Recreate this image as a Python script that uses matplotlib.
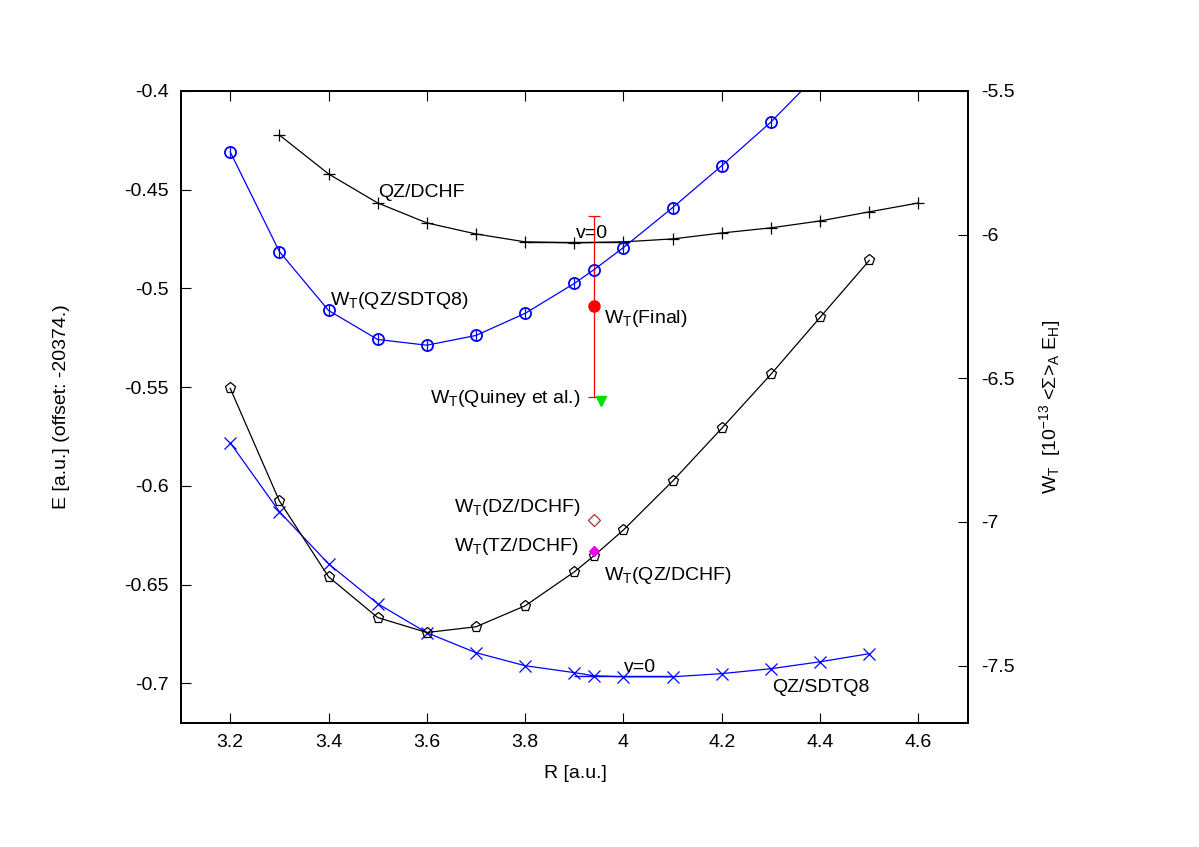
import matplotlib
matplotlib.use("Agg")
import matplotlib.pyplot as plt

plt.rcParams['font.family'] = ['Liberation Sans', 'DejaVu Sans']
plt.rcParams['mathtext.default'] = 'regular'
plt.rcParams['font.size'] = 14

# Energies (left axis), QZ/DCHF and QZ/SDTQ8
r_dchf = [3.3, 3.4, 3.5, 3.6, 3.7, 3.8, 3.9, 4.0, 4.1, 4.2, 4.3, 4.4, 4.5, 4.6]
e_dchf = [-0.4223, -0.4420, -0.4567, -0.4668, -0.4724, -0.4764, -0.4769,
          -0.4764, -0.4749, -0.4719, -0.4693, -0.4658, -0.4612, -0.4567]
r_sdtq = [3.2, 3.3, 3.4, 3.5, 3.6, 3.7, 3.8, 3.9, 3.94, 4.0, 4.1, 4.2, 4.3, 4.4, 4.5]
e_sdtq = [-0.5781, -0.6130, -0.6394, -0.6596, -0.6743, -0.6844, -0.6910, -0.6945,
          -0.6961, -0.6966, -0.6966, -0.6950, -0.6925, -0.6890, -0.6849]

# v=0 levels
v0_dchf = (-0.4766, 3.805, 4.01)
v0_sdtq = (-0.6963, 3.90, 4.10)

# W_T (right axis)
r_wt = [3.2, 3.3, 3.4, 3.5, 3.6, 3.7, 3.8, 3.9, 3.94, 4.0, 4.1, 4.2, 4.3, 4.4]
wt_sdtq = [-5.712, -6.059, -6.264, -6.365, -6.385, -6.351, -6.274, -6.170,
           -6.122, -6.045, -5.906, -5.760, -5.608, -5.434]
wt_sdtq_err = [0.02] * len(r_wt)
r_wt2 = [3.2, 3.3, 3.4, 3.5, 3.6, 3.7, 3.8, 3.9, 3.94, 4.0, 4.1, 4.2, 4.3, 4.4, 4.5]
wt_qzdchf = [-6.535, -6.927, -7.191, -7.333, -7.385, -7.365, -7.292, -7.174,
             -7.118, -7.028, -6.858, -6.674, -6.486, -6.288, -6.090]

r_eq = 3.94
wt_final, wt_final_err = -6.25, 0.315
r_quiney, wt_quiney = 3.955, -6.58
wt_dz = -6.995
wt_tz = -7.101

fig = plt.figure(figsize=(11.99, 8.47), dpi=100)
ax = fig.add_axes([0.151, 0.1464, 0.656, 0.7462])
ax2 = ax.twinx()

ax.plot(r_dchf, e_dchf, color='black', lw=0.9, marker='+', ms=9, mew=0.9)
ax.plot(r_sdtq, e_sdtq, color='blue', lw=0.9, marker='x', ms=8, mew=0.9)
ax.hlines(v0_dchf[0], v0_dchf[1], v0_dchf[2], color='black', lw=1.0)
ax.hlines(v0_sdtq[0], v0_sdtq[1], v0_sdtq[2], color='blue', lw=1.0)

ax2.errorbar(r_wt, wt_sdtq, yerr=wt_sdtq_err, color='blue', lw=0.9, marker='o',
             ms=8, mfc='none', mew=1.3, elinewidth=0.9, capsize=0)
ax2.plot(r_wt2, wt_qzdchf, color='black', lw=0.9, marker='p', ms=8, mfc='none', mew=0.9)
ax2.errorbar([r_eq], [wt_final], yerr=[wt_final_err], color='red', marker='o', ms=8,
             lw=0.9, elinewidth=0.9, capsize=4, capthick=0.9)
ax2.plot([r_quiney], [wt_quiney], marker='v', color='#00dd00', ms=7, ls='none')
ax2.plot([r_eq], [wt_dz], marker='D', color='#b03030', mfc='none', ms=6, mew=0.9, ls='none')
ax2.plot([r_eq], [wt_tz], marker='D', color='#ee00ee', ms=5.5, ls='none')

ax.set_xlim(3.1, 4.7)
ax.set_ylim(-0.72, -0.4)
ax2.set_ylim(-7.7, -5.5)
ax.set_xticks([3.2, 3.4, 3.6, 3.8, 4.0, 4.2, 4.4, 4.6])
ax.set_xticklabels(['3.2', '3.4', '3.6', '3.8', '4', '4.2', '4.4', '4.6'])
ax.set_yticks([-0.7, -0.65, -0.6, -0.55, -0.5, -0.45, -0.4])
ax.set_yticklabels(['-0.7', '-0.65', '-0.6', '-0.55', '-0.5', '-0.45', '-0.4'])
ax2.set_yticks([-7.5, -7, -6.5, -6, -5.5])
ax2.set_yticklabels(['-7.5', '-7', '-6.5', '-6', '-5.5'])

ax.tick_params(axis='x', direction='in', top=True, length=7, width=0.8, pad=8)
ax.tick_params(axis='y', direction='in', length=7, width=0.8, pad=9)
ax2.tick_params(axis='y', direction='in', length=7, width=0.8, pad=10)
for a in (ax, ax2):
    for s in a.spines.values():
        s.set_linewidth(1.3)

# curve labels
ax.text(3.50, -0.4536, 'QZ/DCHF')
ax.text(3.403, -0.5083, 'W$_T$(QZ/SDTQ8)')
ax.text(3.903, -0.4744, 'v=0')
ax.text(3.961, -0.5174, 'W$_T$(Final)')
ax.text(3.913, -0.5579, 'W$_T$(Quiney et al.)', ha='right')
ax.text(3.913, -0.6131, 'W$_T$(DZ/DCHF)', ha='right')
ax.text(3.909, -0.6328, 'W$_T$(TZ/DCHF)', ha='right')
ax.text(3.961, -0.6475, 'W$_T$(QZ/DCHF)')
ax.text(4.303, -0.7042, 'QZ/SDTQ8')
ax.text(4.0, -0.6940, 'v=0')

fig.text(62 / 1199, 1 - 407 / 847, 'E [a.u.] (offset: -20374.)', rotation=90,
         ha='center', va='center')
fig.text(575 / 1199, 1 - 773 / 847, 'R [a.u.]', ha='center', va='center')
fig.text(1050 / 1199, 1 - 407 / 847,
         'W$_T$  [10$^{-13}$ <Σ>$_A$ E$_H$]', rotation=90,
         ha='center', va='center')

fig.savefig('out.png', dpi=100)
